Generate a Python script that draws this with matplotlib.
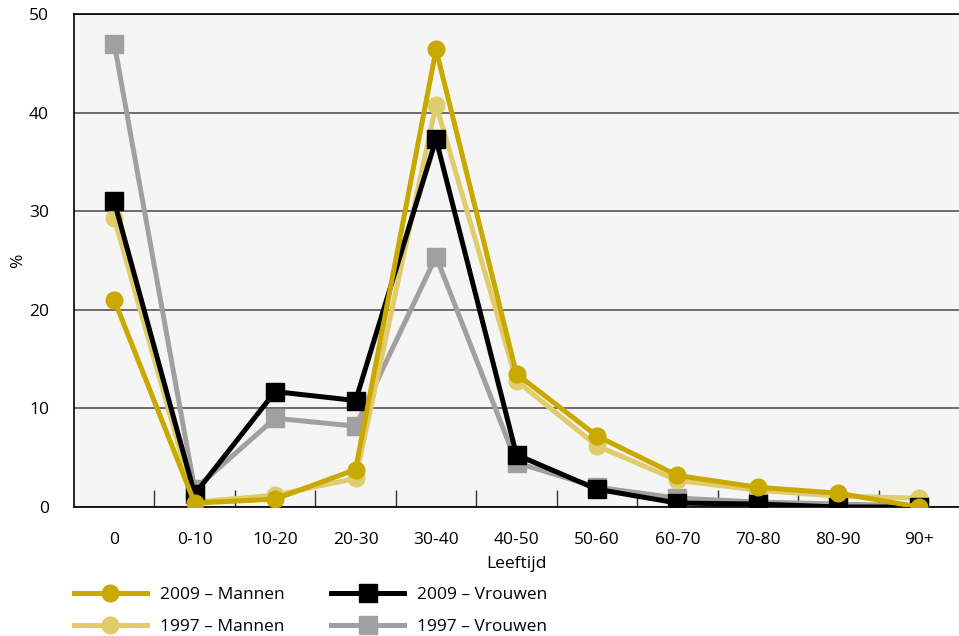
"""
Leeftijdsverdeling 1997 en 2009, mannen en vrouwen (%).
"""

import matplotlib
matplotlib.use("Agg")
import matplotlib.pyplot as plt
import numpy as np

plt.rcParams['font.family'] = ['Open Sans', 'DejaVu Sans']

categorieen = ['0', '0-10', '10-20', '20-30', '30-40', '40-50',
               '50-60', '60-70', '70-80', '80-90', '90+']

mannen_2009 = [21.0, 0.4, 0.8, 3.8, 46.4, 13.5, 7.2, 3.2, 2.0, 1.4, 0.0]
mannen_1997 = [29.3, 0.5, 1.2, 2.9, 40.8, 12.8, 6.2, 2.7, 1.7, 1.1, 0.9]
vrouwen_2009 = [31.0, 1.3, 11.7, 10.8, 37.3, 5.3, 1.8, 0.4, 0.3, 0.0, 0.0]
vrouwen_1997 = [47.0, 1.8, 9.0, 8.2, 25.4, 4.5, 2.0, 0.9, 0.5, 0.3, 0.1]

goud = '#C9A800'
licht_goud = '#E0CC6A'
grijs = '#A0A0A0'

fig = plt.figure(figsize=(9.59, 6.36), dpi=100)
ax = fig.add_axes([74 / 959, 1 - 507 / 636, 1 - 74 / 959, (507 - 14) / 636])
ax.set_facecolor('#F5F5F5')

x = np.arange(len(categorieen))

l_v97, = ax.plot(x, vrouwen_1997, '-s', color=grijs, lw=3.6, ms=12.5, zorder=3)
l_m97, = ax.plot(x, mannen_1997, '-o', color=licht_goud, lw=3.6, ms=12, zorder=4)
l_v09, = ax.plot(x, vrouwen_2009, '-s', color='black', lw=3.6, ms=12.5, zorder=5)
l_m09, = ax.plot(x, mannen_2009, '-o', color=goud, lw=3.6, ms=12, zorder=6)

ax.set_xlim(-0.5, len(categorieen) - 0.5)
ax.set_ylim(0, 50)
ax.set_yticks([0, 10, 20, 30, 40, 50])
ax.yaxis.grid(True, color='#555555', lw=1.2)
ax.set_axisbelow(True)

ax.set_xticks(x)
ax.set_xticklabels(categorieen)
ax.set_xticks(np.arange(0.5, len(categorieen) - 1, 1), minor=True)
ax.tick_params(axis='x', which='major', length=0, pad=18, labelsize=12.5)
ax.tick_params(axis='x', which='minor', length=12, direction='in', width=1, color='#333333')
ax.tick_params(axis='y', length=0, pad=18, labelsize=12.5)

for kant in ['top', 'left', 'bottom']:
    ax.spines[kant].set_color('black')
    ax.spines[kant].set_linewidth(1.2)
ax.spines['right'].set_visible(False)

ax.set_xlabel('Leeftijd', fontsize=12.5, labelpad=6)
ax.set_ylabel('%', fontsize=12.5)
ax.yaxis.set_label_coords(-0.054, 0.5)

fig.legend([l_m09, l_m97, l_v09, l_v97],
           ['2009 – Mannen', '1997 – Mannen', '2009 – Vrouwen', '1997 – Vrouwen'],
           ncol=2, loc='upper left', bbox_to_anchor=(58 / 959, 1 - 571 / 636),
           frameon=False, fontsize=12.5, handlelength=4.2, handletextpad=0.75,
           columnspacing=2.7, labelspacing=0.95)

plt.savefig('out.png', dpi=100)
